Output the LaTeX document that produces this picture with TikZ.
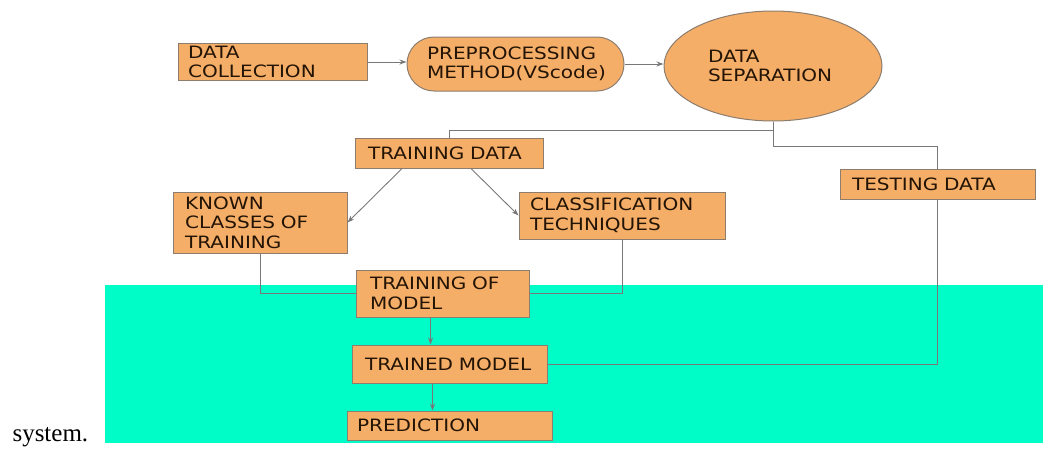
\documentclass[tikz,border=0pt]{standalone}
\usepackage{fontspec}
\usetikzlibrary{arrows.meta,shapes.geometric,calc}
\newfontfamily\boxfont[FakeStretch=1.18]{DejaVu Sans}
\newfontfamily\capfont{Liberation Serif}

\definecolor{boxfill}{RGB}{245,174,104}
\definecolor{boxline}{RGB}{140,125,110}
\definecolor{wire}{RGB}{120,120,120}
\definecolor{sea}{RGB}{0,253,200}
\definecolor{ink}{RGB}{35,20,5}

\tikzset{
  box/.style={draw=boxline, line width=1pt, fill=boxfill, rectangle,
    align=left, inner ysep=2pt, text=ink,
    font=\boxfont\fontsize{17}{19.5}\selectfont},
  pill/.style={box, rounded corners=27pt},
  oval/.style={box, ellipse, inner sep=0pt},
  wireline/.style={draw=wire, line width=0.9pt},
  flow/.style={wireline, -{Stealth[length=7pt,width=5pt]}}
}

\begin{document}
\begin{tikzpicture}[x=1pt,y=-1pt]
  \useasboundingbox (0,0) rectangle (1043,450);

  % cyan band behind the lower part of the flow
  \fill[sea] (105,285) rectangle (1043,443);

  \node[anchor=base west, font=\capfont\fontsize{25}{28}\selectfont] (caption) at (9,441) {system.};

  % top row
  \node[box, minimum height=36pt, text width=169pt, inner xsep=10pt] (dc) at (272.5,62) {DATA\\COLLECTION};
  \node[pill, minimum height=54pt, text width=177pt, inner xsep=20pt] (pre) at (515.5,64) {PREPROCESSING\\METHOD(VScode)};
  \node[oval, minimum width=218pt, minimum height=110pt, text width=130pt] (sep) at (773,66) {DATA\\SEPARATION};

  % training branch
  \node[box, minimum height=30pt, text width=162pt, inner xsep=13pt] (td) at (449,153) {TRAINING DATA};
  \node[box, minimum height=61pt, text width=150pt, inner xsep=12pt] (kc) at (260,222.5) {KNOWN\\CLASSES OF\\TRAINING};
  \node[box, minimum height=47pt, text width=184pt, inner xsep=11pt] (cl) at (622,215.5) {CLASSIFICATION\\TECHNIQUES};
  \node[box, minimum height=30pt, text width=171pt, inner xsep=12pt] (test) at (937.5,184) {TESTING DATA};
  \node[box, minimum height=47pt, text width=145pt, inner xsep=14pt] (tom) at (442.5,293.5) {TRAINING OF\\MODEL};
  \node[box, minimum height=38pt, text width=169pt, inner xsep=13pt] (tm) at (449.5,364) {TRAINED MODEL};
  \node[box, minimum height=29pt, text width=185pt, inner xsep=10pt] (pred) at (449.5,425.5) {PREDICTION};

  % connectors
  \draw[flow] (dc.east) -- (dc.east -| pre.west);
  \draw[flow] (pre.east) -- (pre.east -| sep.west);
  \draw[wireline] (sep.south) -- ++(0,9) -| (td.north);
  \draw[wireline] (sep.south) -- ++(0,25) -| (test.north);
  \draw[flow] ($(td.south)+(-47,0)$) -- (kc.east);
  \draw[flow] ($(td.south)+(22,0)$) -- (cl.west);
  \draw[wireline] (kc.south) |- (tom.west);
  \draw[wireline] (cl.south) |- (tom.east);
  \coordinate (a1) at ($(tom.south)+(-12,0)$);
  \coordinate (a2) at ($(tm.south)+(-17,0)$);
  \draw[flow] (a1) -- (a1 |- tm.north);
  \draw[flow] (a2) -- (a2 |- pred.north);
  \draw[wireline] (tm.east) -| (test.south);
\end{tikzpicture}
\end{document}
